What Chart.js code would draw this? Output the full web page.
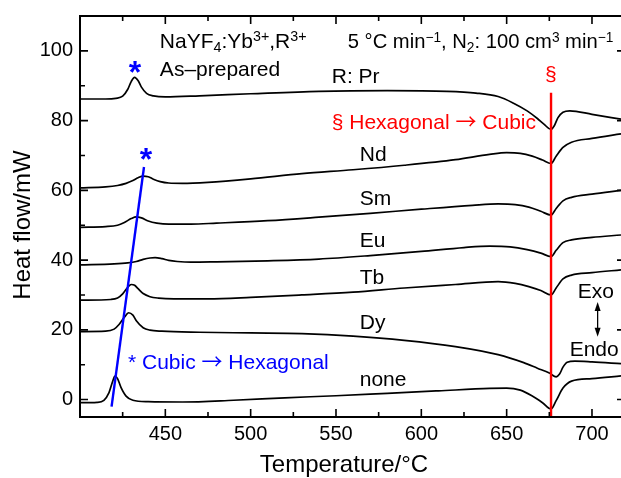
<!DOCTYPE html>
<html><head><meta charset="utf-8">
<script src="https://cdn.jsdelivr.net/npm/chart.js@4.4.0/dist/chart.umd.min.js"></script>
<style>html,body{margin:0;padding:0;background:#fff;}#wrap{width:621px;height:478px;}</style>
</head><body><div id="wrap"><canvas id="c" width="621" height="478"></canvas></div>
<script>
const FONT = '"Liberation Sans", Arial, Helvetica, sans-serif';
const ARROW_FONT = '"Noto Sans CJK JP", "DejaVu Sans", sans-serif';

// tick values
const xTickValues = [450, 500, 550, 600, 650, 700];
const xMinorValues = [425, 475, 525, 575, 625, 675];
const yTickValues = [0, 20, 40, 60, 80, 100];
const yMinorValues = [10, 30, 50, 70, 90];

// series (temperature / heat flow)
const seriesNames = ['Pr', 'Nd', 'Sm', 'Eu', 'Tb', 'Dy', 'none'];
const tempPr = [400,415,421,425,428,430,432,434,436,439,443,450,470,500,540,580,615,632,645,654,662,668,672,676,678,680,683,687,700,717];
const heatPr = [86.2,86.2,86.4,87.0,89.0,91.2,92.4,91.5,89.6,87.8,87.1,86.8,87.1,87.7,88.4,88.6,88.4,87.9,86.9,85.0,82.8,80.6,78.9,77.5,78.6,80.8,82.4,82.8,81.8,80.4];
const tempNd = [400,415,422,427,431,434,437,440,443,447,452,460,475,500,530,560,590,620,640,650,658,665,671,676,679,683,688,700,717];
const heatNd = [60.7,61.0,61.4,62.0,62.8,63.6,64.1,63.9,63.2,62.5,62.1,62.0,62.3,63.3,64.8,65.9,67.2,68.8,70.3,70.8,70.6,69.8,68.7,67.7,69.8,72.3,73.8,74.9,76.2];
const tempSm = [400,415,422,426,430,433,436,440,445,452,465,480,510,540,570,600,630,645,655,663,670,676,679,683,688,700,717];
const heatSm = [49.4,49.6,50.0,50.8,51.9,52.4,52.1,51.2,50.6,50.3,50.3,50.6,51.3,52.3,53.4,54.6,55.7,56.1,55.9,55.2,54.0,52.9,54.8,57.0,58.0,58.9,60.0];
const tempEu = [400,420,428,433,437,441,444,448,452,457,465,480,510,540,570,600,625,640,652,662,670,676,679,683,688,700,717];
const heatEu = [38.6,38.9,39.2,39.6,40.2,40.6,40.7,40.4,39.9,39.6,39.4,39.5,39.8,40.3,41.3,42.5,43.6,44.0,43.8,43.0,42.0,41.0,42.8,45.0,45.8,46.5,47.2];
const tempTb = [400,418,422,425,428,430,432,434,437,441,446,455,475,500,530,560,590,620,645,655,663,670,676,679,683,688,700,717];
const heatTb = [28.5,28.7,29.1,30.3,32.2,33.0,32.8,31.8,30.4,29.5,29.1,28.9,28.9,29.3,30.0,30.8,32.0,33.0,33.8,33.3,32.4,31.3,30.0,32.0,34.6,35.7,36.4,37.2];
const tempDy = [400,415,420,423,426,428.5,431,433,437,441,448,470,500,530,560,590,620,645,660,668,675,679,681,683,685.5,690,700,717];
const heatDy = [19.5,19.6,20.2,21.6,23.6,24.9,24.2,22.6,20.6,19.9,19.6,19.3,19.1,18.9,18.2,17.0,15.2,12.9,10.6,9.0,7.6,6.5,7.3,9.3,10.7,11.0,10.8,10.3];
const tempNone = [400,410,414,417,419,420.5,422,424,427,431,440,460,490,520,550,580,610,640,650,658,665,671,676,679,683,688,700,717];
const heatNone = [-0.9,-0.8,-0.2,2.0,5.0,6.7,6.0,3.5,1.0,-0.2,-0.6,-0.7,-0.2,0.5,1.1,1.8,2.5,3.2,3.3,2.7,1.0,-0.9,-2.7,-0.3,3.3,5.3,6.0,6.8];

// guide lines
const tempCubicHex = [418.5, 437.5];
const heatCubicHex = [-2, 66.7];
const tempHexCubic = [676, 676];
const heatHexCubic = [-5, 88];

const temps = [tempPr, tempNd, tempSm, tempEu, tempTb, tempDy, tempNone];
const heats = [heatPr, heatNd, heatSm, heatEu, heatTb, heatDy, heatNone];

function pts(t, h) { return t.map((v, i) => ({x: v, y: h[i]})); }

const datasets = [
  {label: 'Hexagonal → Cubic', data: pts(tempHexCubic, heatHexCubic), borderColor: 'rgb(255,0,0)', borderWidth: 2.4, pointRadius: 0, tension: 0},
  {label: 'Cubic → Hexagonal', data: pts(tempCubicHex, heatCubicHex), borderColor: 'rgb(0,0,255)', borderWidth: 2.4, pointRadius: 0, tension: 0}
];
seriesNames.forEach((n, i) => datasets.push({
  label: n, data: pts(temps[i], heats[i]), borderColor: '#000', borderWidth: 1.7,
  pointRadius: 0, cubicInterpolationMode: 'monotone', fill: false
}));

// annotations (data coordinates)
const notes = [
  {segs: [{t: 'NaYF'}, {t: '4', k: 'sub'}, {t: ':Yb'}, {t: '3+', k: 'sup'}, {t: ',R'}, {t: '3+', k: 'sup'}], x: 446.8, y: 103.1, size: 21, color: '#000'},
  {segs: [{t: 'As–prepared'}], x: 446.8, y: 94.9, size: 21, color: '#000'},
  {segs: [{t: '5 °C min'}, {t: '−1', k: 'sup'}, {t: ', N'}, {t: '2', k: 'sub'}, {t: ': 100 cm'}, {t: '3', k: 'sup'}, {t: ' min'}, {t: '−1', k: 'sup'}], x: 556.9, y: 103.0, size: 20.2, color: '#000'},
  {segs: [{t: 'R: Pr'}], x: 547.5, y: 92.9, size: 21, color: '#000'},
  {segs: [{t: '§ Hexagonal '}, {t: '→', f: ARROW_FONT}, {t: ' Cubic'}], x: 547.5, y: 79.8, size: 21, color: 'rgb(255,0,0)'},
  {segs: [{t: 'Nd'}], x: 563.9, y: 70.6, size: 21, color: '#000'},
  {segs: [{t: 'Sm'}], x: 563.9, y: 58.0, size: 21, color: '#000'},
  {segs: [{t: 'Eu'}], x: 563.9, y: 45.8, size: 21, color: '#000'},
  {segs: [{t: 'Tb'}], x: 563.9, y: 35.3, size: 21, color: '#000'},
  {segs: [{t: 'Dy'}], x: 563.9, y: 22.5, size: 21, color: '#000'},
  {segs: [{t: 'none'}], x: 563.9, y: 6.0, size: 21, color: '#000'},
  {segs: [{t: '* Cubic '}, {t: '→', f: ARROW_FONT}, {t: ' Hexagonal'}], x: 428.1, y: 10.9, size: 21, color: 'rgb(0,0,255)'},
  {segs: [{t: 'Exo'}], x: 691.6, y: 31.4, size: 21, color: '#000'},
  {segs: [{t: 'Endo'}], x: 686.9, y: 14.6, size: 21, color: '#000'}
];
const marks = [
  {t: '*', x: 432.2, y: 95.1, color: 'rgb(0,0,255)'},
  {t: '*', x: 438.6, y: 70.0, color: 'rgb(0,0,255)'},
  {t: '§', x: 675.9, y: 93.0, color: 'rgb(255,0,0)'}
];
const exoArrow = {x: 703.3, y1: 28.0, y2: 18.0};

function drawRich(ctx, segs, x, y, size, color) {
  ctx.fillStyle = color;
  ctx.textAlign = 'left';
  ctx.textBaseline = 'alphabetic';
  const base = y + 0.358 * size;
  let cx = x;
  for (const s of segs) {
    const fs = s.k ? size * 0.68 : size;
    ctx.font = fs + 'px ' + (s.f || FONT);
    const dy = s.k === 'sup' ? -0.3 * size : s.k === 'sub' ? 0.22 * size : 0;
    ctx.fillText(s.t, cx, base + dy);
    cx += ctx.measureText(s.t).width;
  }
}

const framePlugin = {
  id: 'frame',
  afterDatasetsDraw(chart) {
    const ctx = chart.ctx, xs = chart.scales.x, ys = chart.scales.y;
    const {left, right, top, bottom} = chart.chartArea;
    ctx.save();
    ctx.strokeStyle = '#000';
    ctx.lineWidth = 2;
    ctx.beginPath();
    ctx.moveTo(right + 2, top); ctx.lineTo(left, top); ctx.lineTo(left, bottom); ctx.lineTo(right + 2, bottom);
    ctx.stroke();
    ctx.lineWidth = 1.6;
    ctx.beginPath();
    const tick = (v, len, horiz) => {
      if (horiz) {
        const p = xs.getPixelForValue(v);
        ctx.moveTo(p, bottom); ctx.lineTo(p, bottom - len);
        ctx.moveTo(p, top); ctx.lineTo(p, top + len);
      } else {
        const p = ys.getPixelForValue(v);
        ctx.moveTo(left, p); ctx.lineTo(left + len, p);
      }
    };
    xTickValues.forEach(v => tick(v, 8, true));
    xMinorValues.forEach(v => tick(v, 5, true));
    yTickValues.forEach(v => tick(v, 8, false));
    yMinorValues.forEach(v => tick(v, 5, false));
    yTickValues.forEach(v => { const p = ys.getPixelForValue(v); ctx.moveTo(right - 4, p); ctx.lineTo(right, p); });
    ctx.stroke();

    // annotations
    notes.forEach(n => drawRich(ctx, n.segs, xs.getPixelForValue(n.x), ys.getPixelForValue(n.y), n.size, n.color));
    marks.forEach(m => {
      ctx.fillStyle = m.color;
      ctx.textAlign = 'center';
      ctx.textBaseline = 'middle';
      ctx.font = (m.t === '*' ? 'bold 32px ' : '21px ') + FONT;
      const yy = ys.getPixelForValue(m.y) + (m.t === '*' ? 6 : 0);
      ctx.fillText(m.t, xs.getPixelForValue(m.x), yy);
    });
    // exo/endo arrow
    const ax = xs.getPixelForValue(exoArrow.x), ay1 = ys.getPixelForValue(exoArrow.y1), ay2 = ys.getPixelForValue(exoArrow.y2);
    ctx.strokeStyle = '#000'; ctx.fillStyle = '#000'; ctx.lineWidth = 1.3;
    ctx.beginPath(); ctx.moveTo(ax, ay1 + 6); ctx.lineTo(ax, ay2 - 6); ctx.stroke();
    ctx.beginPath(); ctx.moveTo(ax, ay1); ctx.lineTo(ax - 3, ay1 + 9); ctx.lineTo(ax + 3, ay1 + 9); ctx.closePath(); ctx.fill();
    ctx.beginPath(); ctx.moveTo(ax, ay2); ctx.lineTo(ax - 3, ay2 - 9); ctx.lineTo(ax + 3, ay2 - 9); ctx.closePath(); ctx.fill();

    // axis titles
    ctx.fillStyle = '#000';
    ctx.font = '24px ' + FONT;
    ctx.textAlign = 'center';
    ctx.textBaseline = 'middle';
    ctx.fillText('Temperature/°C', 344, 465);
    ctx.translate(23, 225);
    ctx.rotate(-Math.PI / 2);
    ctx.fillText('Heat flow/mW', 0, 0);
    ctx.restore();
  }
};

new Chart(document.getElementById('c'), {
  type: 'line',
  data: {datasets},
  plugins: [framePlugin],
  options: {
    responsive: false,
    devicePixelRatio: 1,
    animation: false,
    events: [],
    layout: {autoPadding: false, padding: {top: 16, left: 0, right: 0, bottom: 0}},
    plugins: {legend: {display: false}, tooltip: {enabled: false}},
    scales: {
      x: {
        type: 'linear', min: 400, max: 717,
        grid: {display: false, drawTicks: false},
        border: {display: false},
        ticks: {color: '#000', font: {family: FONT, size: 20}, padding: 5},
        afterBuildTicks: s => { s.ticks = xTickValues.map(v => ({value: v})); },
        afterFit: s => { s.height = 61; }
      },
      y: {
        type: 'linear', min: -5, max: 110,
        grid: {display: false, drawTicks: true, tickLength: 7},
        border: {display: false},
        ticks: {color: '#000', font: {family: FONT, size: 20}, padding: 0},
        afterBuildTicks: s => { s.ticks = yTickValues.map(v => ({value: v})); },
        afterFit: s => { s.width = 80; }
      }
    }
  }
});
</script>
</body></html>
